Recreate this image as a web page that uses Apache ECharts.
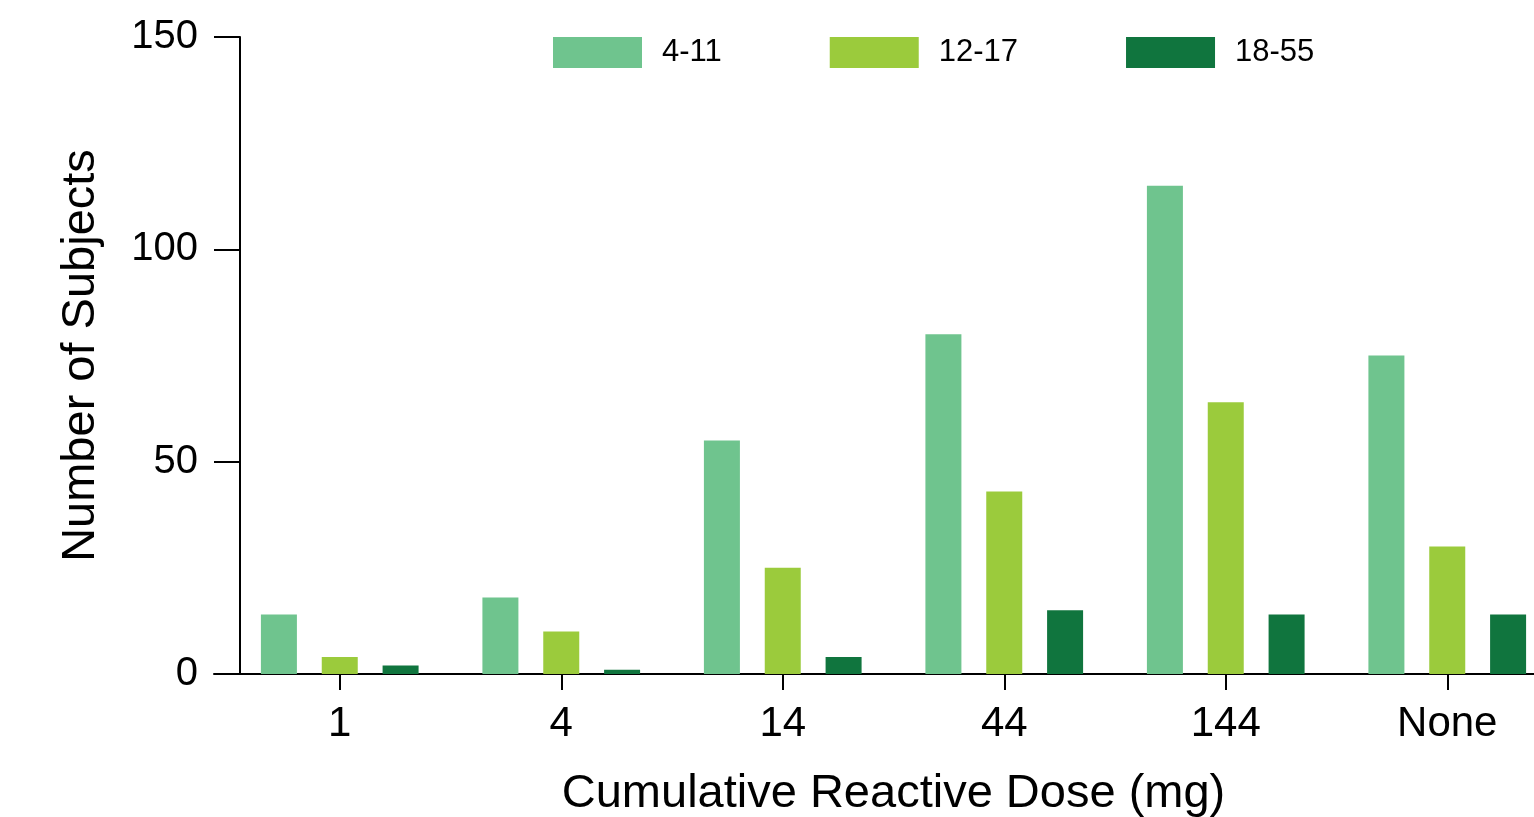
<!DOCTYPE html>
<html>
<head>
<meta charset="utf-8">
<script src="https://cdn.jsdelivr.net/npm/echarts@6/dist/echarts.min.js"></script>
<style>
  html, body { margin: 0; padding: 0; background: #fff; }
  #chart { width: 1534px; height: 817px; }
</style>
</head>
<body>
<div id="chart"></div>
<script>
const categories = ['1', '4', '14', '44', '144', 'None'];
const age4to11 = [14, 18, 55, 80, 115, 75];
const age12to17 = [4, 10, 25, 43, 64, 30];
const age18to55 = [2, 1, 4, 15, 14, 14];
const seriesNames = ['4-11', '12-17', '18-55'];
const colors = ['#6fc48e', '#9bcb3c', '#10753e'];

const font = '"Liberation Sans", Arial, sans-serif';
const chart = echarts.init(document.getElementById('chart'));

const option = {
  backgroundColor: '#fff',
  textStyle: { fontFamily: font },
  legend: {
    left: 548,
    top: 32,
    itemWidth: 89,
    itemHeight: 31,
    itemGap: 108,
    icon: 'rect',
    textStyle: { fontSize: 31, color: '#000', fontFamily: font, padding: [8, 0, 0, 15] },
    data: seriesNames
  },
  grid: [
    // axis frame grid
    { left: 214, right: 0, top: 37, bottom: 143, outerBoundsMode: 'none' },
    // data grid, runs past the right edge of the canvas
    { left: 229, width: 1329, top: 37, bottom: 143, outerBoundsMode: 'none' }
  ],
  xAxis: [
    {
      gridIndex: 0,
      type: 'value',
      min: 0,
      max: 1,
      axisLine: { show: true, lineStyle: { color: '#000', width: 2 } },
      axisTick: { show: false },
      axisLabel: { show: false },
      splitLine: { show: false }
    },
    {
      gridIndex: 1,
      type: 'category',
      data: categories,
      axisLine: { show: false },
      axisTick: { show: true, alignWithLabel: true, length: 16, lineStyle: { color: '#000', width: 2 } },
      axisLabel: { fontSize: 42, color: '#000', margin: 29, fontFamily: font },
      name: 'Cumulative Reactive Dose (mg)',
      nameLocation: 'middle',
      nameGap: 97,
      nameTextStyle: { fontSize: 47, color: '#000', fontFamily: font }
    }
  ],
  yAxis: [
    {
      gridIndex: 0,
      type: 'value',
      min: 0,
      max: 150,
      interval: 50,
      offset: -26,
      axisLine: { show: true, lineStyle: { color: '#000', width: 2 } },
      axisTick: { show: true, length: 26, lineStyle: { color: '#000', width: 2 } },
      axisLabel: { fontSize: 40, color: '#000', margin: 42, fontFamily: font, padding: [10, 0, 0, 0] },
      splitLine: { show: false },
      name: 'Number of Subjects',
      nameLocation: 'middle',
      nameGap: 135,
      nameTextStyle: { fontSize: 47, color: '#000', fontFamily: font }
    },
    {
      gridIndex: 1,
      type: 'value',
      min: 0,
      max: 150,
      show: false
    }
  ],
  series: [age4to11, age12to17, age18to55].map((vals, i) => ({
    name: seriesNames[i],
    type: 'bar',
    xAxisIndex: 1,
    yAxisIndex: 1,
    barWidth: 36,
    barGap: '69%',
    itemStyle: { color: colors[i] },
    data: vals
  }))
};

chart.setOption(option);
</script>
</body>
</html>
